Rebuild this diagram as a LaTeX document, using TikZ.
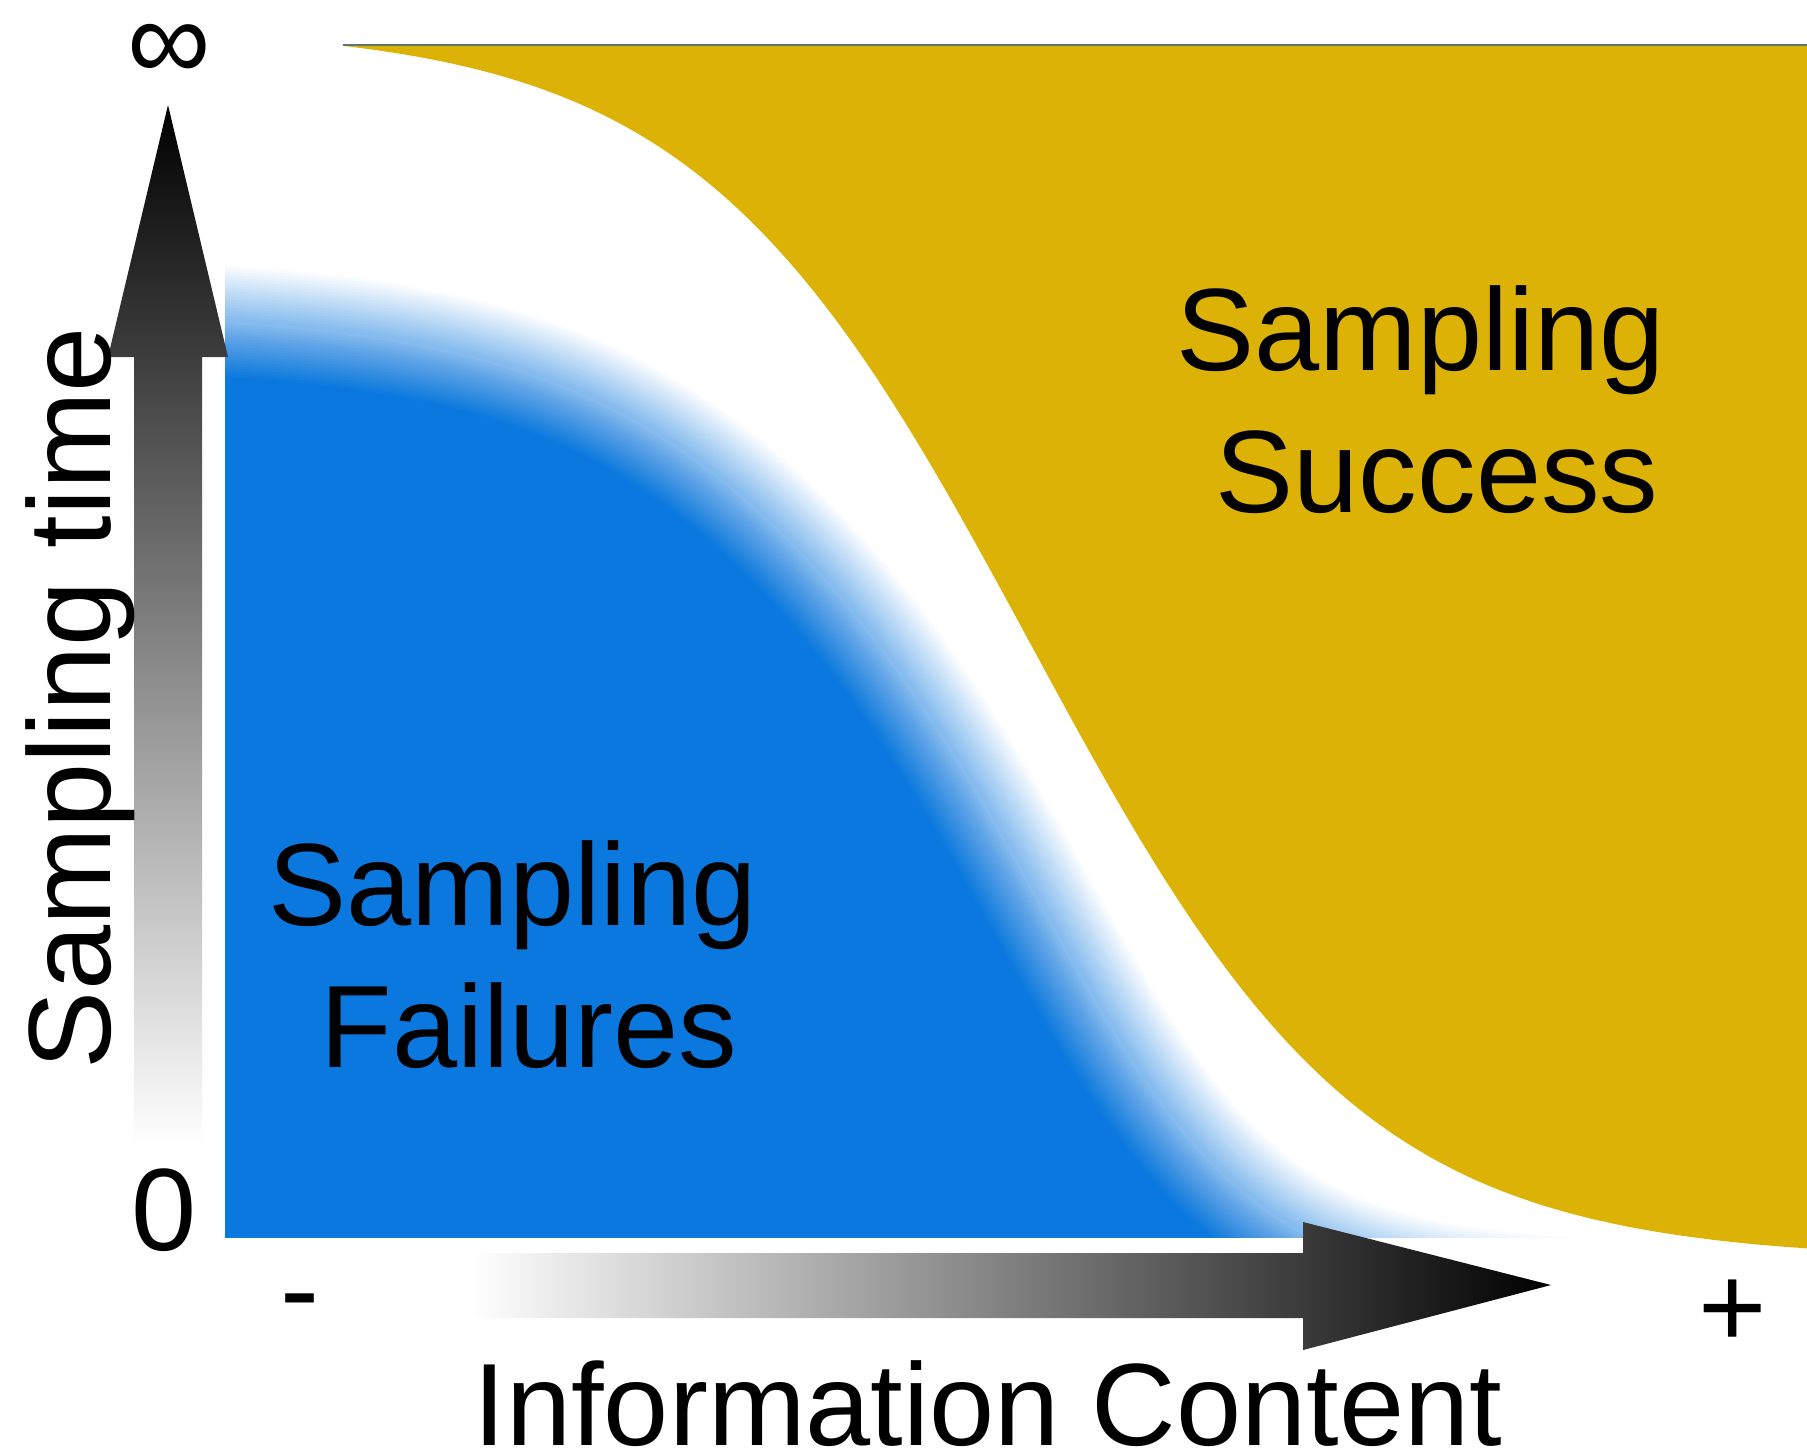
\documentclass[tikz,border=0pt]{standalone}
\usepackage{fontspec}
\setmainfont{Liberation Sans}
\usepackage{tikz}
\definecolor{gold}{RGB}{219,178,5}
\definecolor{failblue}{RGB}{10,120,222}
\definecolor{topline}{RGB}{95,118,110}
\tikzset{
lbl/.style={font=\fontsize{33.3}{40.4}\selectfont, inner sep=0pt},
axisarrow/.style={draw=none}}

\begin{document}
\begin{tikzpicture}[x=0.01cm, y=-0.01cm,
    declare function={goldy(\t)=26+1234/(1+exp(-(\t-1030)/167));
                      bluey(\t)=310+990/(1+exp(-(\t-985)/(145-25*tanh((\t-985)/200))));}]
\useasboundingbox (0,0) rectangle (1807,1454);

\begin{scope}
\clip (225,0) rectangle (1807,1237);
\fill[failblue] (150,1320) -- plot[domain=150:1700, samples=130, smooth] (\x,{bluey(\x)}) -- (1700,1320) -- cycle;
\foreach \k [evaluate=\k as \op using 1/\k] in {20,...,1}
    \draw[failblue!50!white, line width=\k*0.55mm, draw opacity=\op] plot[domain=150:1700, samples=130, smooth] (\x,{bluey(\x)});
\end{scope}

\fill[gold] plot[domain=343:1807, samples=150, smooth] (\x,{goldy(\x)}) -- (1807,45) -- cycle;
\draw[topline, line width=0.6pt] (343,45) -- (1807,45);

\shade[axisarrow, top color=black, middle color=black!55, bottom color=white] (134,1145) -- (134,357) -- (108,357) -- (168,105) -- (228,357) -- (202,357) -- (202,1145) -- cycle;
\shade[axisarrow, left color=white, right color=black] (470,1253) -- (1303,1253) -- (1303,1222) -- (1551,1285) -- (1303,1350) -- (1303,1318) -- (470,1318) -- cycle;

\node[lbl] (inf) at (169,52) {∞};
\node[lbl, anchor=base] (zero) at (164,1250) {0};
\node[lbl, anchor=base] (minus) at (300,1329) {-};
\node[lbl, anchor=base] (plus) at (1733,1347) {+};
\node[lbl, anchor=base] (xlabel) at (988,1445) {Information Content};
\node[lbl, anchor=base, rotate=90] (ylabel) at (110,698) {Sampling time};
\node[lbl, align=center] (success) at (1437,400) {Sampling\kern0.28em\\Success};
\node[lbl, align=center] (failures) at (529,955) {Sampling\kern0.28em\\Failures};

\end{tikzpicture}
\end{document}
